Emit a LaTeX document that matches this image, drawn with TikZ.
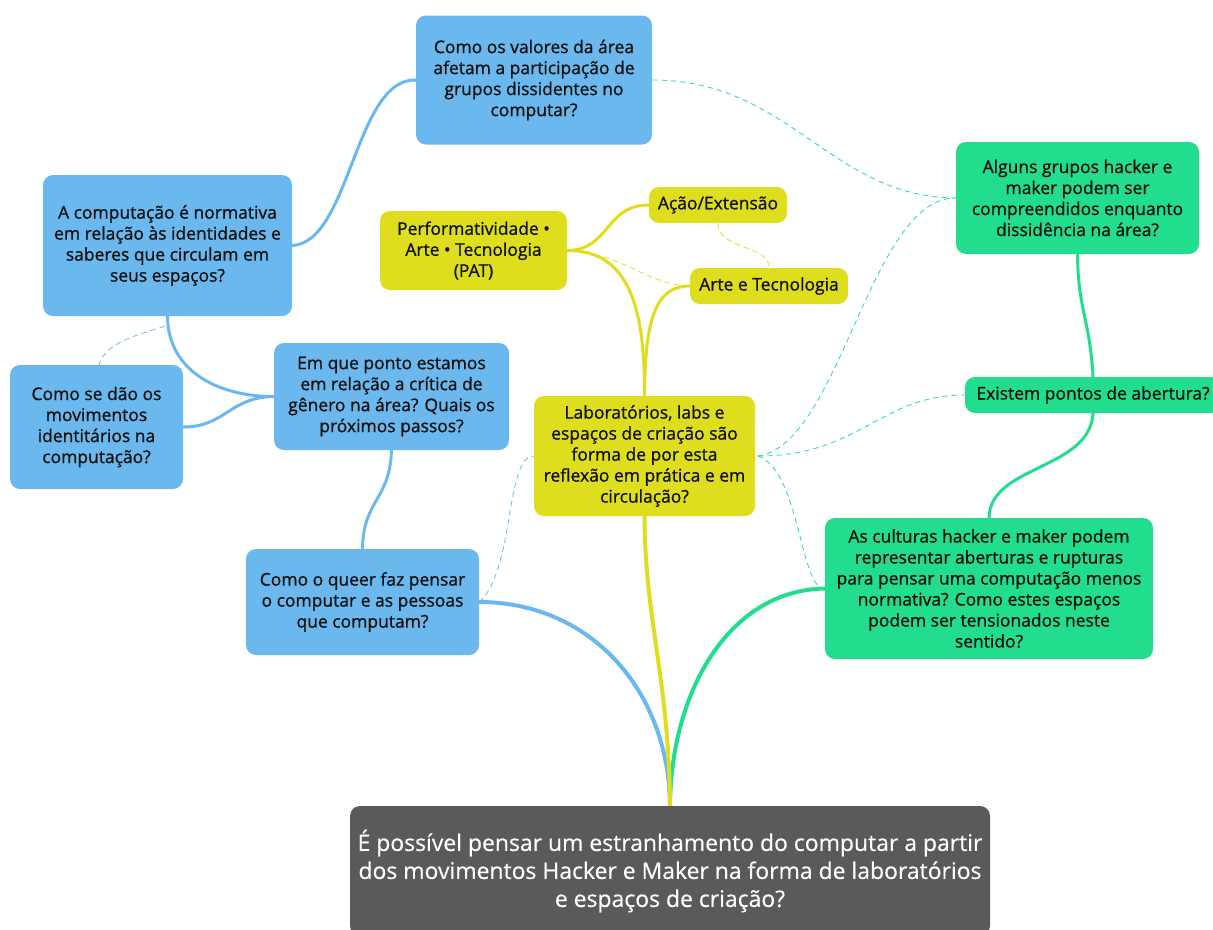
\documentclass[tikz,border=0pt]{standalone}
\usepackage{fontspec}
\setmainfont{Open Sans}
\newfontfamily\nodefont{Open Sans}[FakeBold=1]
\newfontfamily\rootfont{Open Sans}[FakeBold=0.4]
\usetikzlibrary{backgrounds}
\definecolor{cblue}{HTML}{6BB8EE}
\definecolor{cyellow}{HTML}{DEDE1F}
\definecolor{cgreen}{HTML}{22DD8E}
\definecolor{croot}{HTML}{5A5A5A}
\definecolor{ctext}{HTML}{111111}
\tikzset{
  box/.style={rounded corners=7.5pt, align=center, inner sep=0pt, text=ctext,
    font=\nodefont\fontsize{13.1}{15.75}\selectfont},
  bluebox/.style={box, fill=cblue},
  yellowbox/.style={box, fill=cyellow},
  greenbox/.style={box, fill=cgreen},
  rootbox/.style={rounded corners=7.5pt, align=center, inner sep=0pt, fill=croot, text=white,
    font=\rootfont\fontsize{17.2}{21}\selectfont},
  link/.style={line width=2.25pt, line cap=round},
  rlink/.style={line width=3pt, line cap=round},
  dlink/.style={line width=0.6pt, dash pattern=on 4pt off 3pt},
}
\begin{document}
\begin{tikzpicture}[x=0.75pt, y=-0.75pt]
\useasboundingbox (0,0) rectangle (1213,929);
\clip (0,0) rectangle (1213,929);

\node[rootbox, minimum width=480pt, minimum height=97.5pt] (root) at (670,871)
  {É possível pensar um estranhamento do computar a partir\\dos movimentos Hacker e Maker na forma de laboratórios\\e espaços de criação?};

\node[bluebox, minimum width=177pt, minimum height=96.75pt] (valores) at (534,80)
  {Como os valores da área\\afetam a participação de\\grupos dissidentes no\\computar?};
\node[bluebox, minimum width=186.75pt, minimum height=105.75pt] (comput) at (167.5,245.5)
  {A computação é normativa\\em relação às identidades e\\saberes que circulam em\\seus espaços?};
\node[bluebox, minimum width=129.75pt, minimum height=93pt] (dao) at (96.5,427)
  {Como se dão os\\movimentos\\identitários na\\computação?};
\node[bluebox, minimum width=176.25pt, minimum height=80.25pt] (ponto) at (391.5,396.5)
  {Em que ponto estamos\\em relação a crítica de\\gênero na área? Quais os\\próximos passos?};
\node[bluebox, minimum width=174.75pt, minimum height=79.5pt] (queer) at (362.5,602)
  {Como o queer faz pensar\\o computar e as pessoas\\que computam?};

\node[yellowbox, minimum width=140.25pt, minimum height=59.25pt] (pat) at (473.5,250.5)
  {Performatividade •\\Arte • Tecnologia\\(PAT)};
\node[yellowbox, minimum width=103.5pt, minimum height=27pt] (acao) at (718,205)
  {Ação/Extensão};
\node[yellowbox, minimum width=118.5pt, minimum height=27pt] (arte) at (769,286)
  {Arte e Tecnologia};
\node[yellowbox, minimum width=165.75pt, minimum height=90pt] (lab) at (644.5,456)
  {Laboratórios, labs e\\espaços de criação são\\forma de por esta\\reflexão em prática e em\\circulação?};

\node[greenbox, minimum width=182.25pt, minimum height=84pt] (alguns) at (1077.5,198)
  {Alguns grupos hacker e\\maker podem ser\\compreendidos enquanto\\dissidência na área?};
\node[greenbox, minimum width=192pt, minimum height=27pt] (existem) at (1093,395)
  {Existem pontos de abertura?};
\node[greenbox, minimum width=246pt, minimum height=105.75pt] (culturas) at (989,588.5)
  {As culturas hacker e maker podem\\representar aberturas e rupturas\\para pensar uma computação menos\\normativa? Como estes espaços\\podem ser tensionados neste\\sentido?};

\begin{pgfonlayer}{background}
% from root
\draw[rlink, cblue] (root.north) .. controls (669,690) and (590,602) .. (queer.east);
\draw[rlink, cgreen] (root.north) .. controls (671,690) and (730,590) .. (culturas.west);
\draw[rlink, cyellow] (root.north) .. controls (669,680) and (645,620) .. (lab.south);
% blue branch
\draw[link, cblue] (queer.north) .. controls (363,500) and (390,500) .. (ponto.south);
\draw[link, cblue] (ponto.west) .. controls (225,397) and (168,375) .. (comput.south);
\draw[link, cblue] (ponto.west) .. controls (230,397) and (225,427) .. (dao.east);
\draw[link, cblue] (comput.east) .. controls (350,243) and (355,78) .. (valores.west);
% yellow branch
\draw[link, cyellow] (lab.north) .. controls (645,310) and (630,250) .. (pat.east);
\draw[link, cyellow] (pat.east) .. controls (610,250) and (605,205) .. (acao.west);
\draw[link, cyellow] (lab.north) .. controls (645,320) and (655,286) .. (arte.west);
% green branch
\draw[link, cgreen] (culturas.north) .. controls (990,465) and (1090,470) .. (existem.south);
\draw[link, cgreen] (existem.north) .. controls (1090,320) and (1078,310) .. (alguns.south);
% dashed relations
\draw[dlink, cblue] (comput.south) ++(-3,10) coordinate (c1) .. controls (130,337) and (100,345) .. ([xshift=1pt,yshift=-5pt]dao.north);
\draw[dlink, cyellow] (pat.east) .. controls (620,252) and (650,286) .. (arte.west);
\draw[dlink, cyellow] (acao.south) .. controls (718,250) and (770,245) .. (arte.north);
\draw[dlink, cgreen] (valores.east) .. controls (790,80) and (830,197) .. (alguns.west);
\draw[dlink, cgreen] ([xshift=2pt]lab.east) .. controls (840,445) and (870,197) .. (alguns.west);
\draw[dlink, cgreen] ([xshift=2pt]lab.east) .. controls (860,456) and (880,395) .. (existem.west);
\draw[dlink, cgreen] ([xshift=2pt]lab.east) .. controls (800,470) and (800,590) .. (culturas.west);
\draw[dlink, cblue] (queer.east) .. controls (515,570) and (505,456) .. (lab.west);
\end{pgfonlayer}
\end{tikzpicture}
\end{document}
